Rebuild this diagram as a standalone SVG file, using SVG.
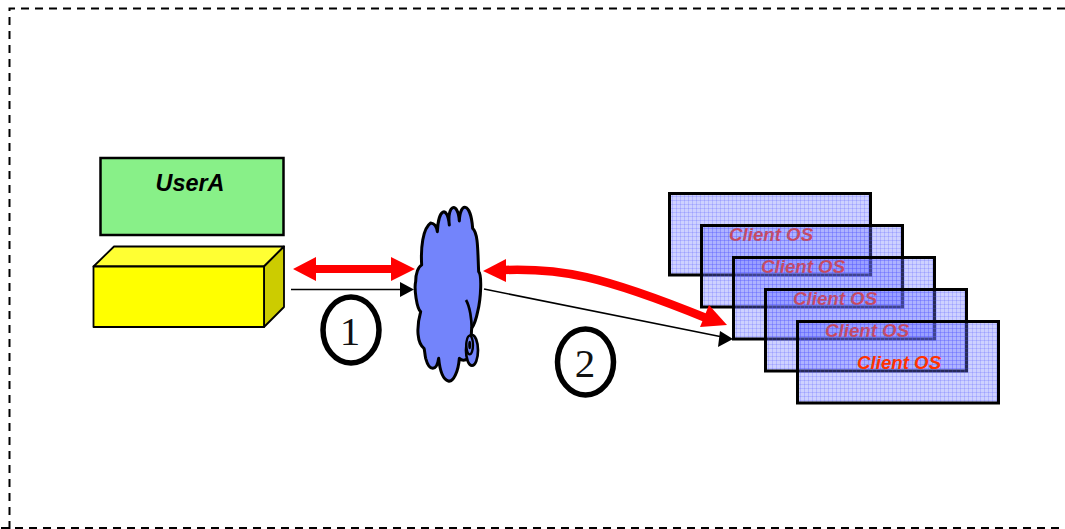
<svg xmlns="http://www.w3.org/2000/svg" width="1065" height="529" viewBox="0 0 1065 529">
<style>
.client{fill:url(#grid);stroke:#000;stroke-width:3}
.os{font:italic bold 18.7px "Liberation Sans",Arial,sans-serif;fill:#ff3300}
.num{font:41px "Liberation Serif","Times New Roman",serif;fill:#111;text-anchor:middle}
.ring{fill:#fff;stroke:#000;stroke-width:5.500}
.thin{fill:none;stroke:#000;stroke-width:1.600}
</style>
<defs>
<pattern id="grid" width="4" height="4" patternUnits="userSpaceOnUse">
<rect width="4" height="4" fill="#7078ff" fill-opacity=".34"/>
<path d="M0 .5H4M.5 0V4" stroke="#5058ff" stroke-opacity=".22" stroke-width="1" fill="none"/>
</pattern>
</defs>
<rect width="1065" height="529" fill="#fff"/>
<path id="frame" d="M9.500 529V8.500H1065" fill="none" stroke="#000" stroke-width="2" stroke-dasharray="8 6"/>
<path id="frame-bottom" d="M1 528H1065" fill="none" stroke="#000" stroke-width="1.800" stroke-dasharray="8 6"/>
<g id="user-a">
<rect x="100.500" y="158" width="183" height="77" fill="#88f088" stroke="#000" stroke-width="2.500"/>
<text x="155.500" y="191" font-family="Liberation Sans, Arial, sans-serif" font-size="23.400" font-weight="bold" font-style="italic" fill="#000">UserA</text>
</g>
<g id="box" stroke="#000" stroke-width="1.800" stroke-linejoin="round">
<path d="M93.500 266.500L114 246.500H284L264 266.500Z" fill="#ffff33"/>
<path d="M264 266.500L284 246.500V307L264 327Z" fill="#cccc00"/>
<rect x="93.500" y="266.500" width="170.500" height="60.500" fill="#ffff00"/>
</g>
<g id="cloud" transform="translate(400 195) scale(.33333)">
<path d="M148 90C140 25 175 20 178 78C180 20 212 20 218 100C235 115 233 170 236 230C246 240 243 310 233 350C228 375 222 390 215 400C212 440 215 480 205 490C195 497 185 497 178 490C175 530 160 562 145 558C128 553 120 530 116 490C110 530 88 530 77 490C74 475 74 465 72 460C52 445 48 400 62 350C50 340 42 280 47 260C47 235 55 215 65 210C62 160 68 100 92 84C102 85 110 95 112 110C115 40 142 30 148 90Z" fill="#7384fb" stroke="#000" stroke-width="9" stroke-linejoin="round"/>
<path d="M198 315C210 335 215 375 215 400" fill="none" stroke="#000" stroke-width="8"/>
<ellipse cx="216" cy="466" rx="18" ry="46" fill="#7384fb" stroke="#000" stroke-width="8"/>
<ellipse cx="209" cy="450" rx="10" ry="28" fill="#7384fb" stroke="#000" stroke-width="7"/>
<ellipse cx="209" cy="450" rx="2" ry="10" fill="none" stroke="#000" stroke-width="5"/>
</g>
<g id="client-os-1"><rect class="client" x="669.500" y="193.500" width="201" height="81.500"/><text class="os" x="729" y="241">Client OS</text></g>
<g id="client-os-2"><rect class="client" x="701.500" y="225.500" width="201" height="81.500"/><text class="os" x="761" y="273">Client OS</text></g>
<g id="client-os-3"><rect class="client" x="733.500" y="257.500" width="201" height="81.500"/><text class="os" x="793" y="305">Client OS</text></g>
<g id="client-os-4"><rect class="client" x="765.500" y="289.500" width="201" height="81.500"/><text class="os" x="825" y="337">Client OS</text></g>
<g id="client-os-5"><rect class="client" x="797.500" y="321.500" width="201" height="81.500"/><text class="os" x="857" y="369">Client OS</text></g>
<g id="connectors">
<path class="thin" d="M291 289.500H402"/>
<path d="M414 289.500L400 282V297Z" fill="#000"/>
<path class="thin" d="M484 289L720 336.500"/>
<path d="M733 339L718 347L720 331Z" fill="#000"/>
<path d="M293 269L316 257V265H391V257L415 269L391 281V273H316V281Z" fill="#ff0000"/>
<path d="M504 270C560 268 600 275 706 318" fill="none" stroke="#ff0000" stroke-width="8.500"/>
<path d="M483 271L506 259V282Z" fill="#ff0000"/>
<path d="M727 325L709 305L700 327Z" fill="#ff0000"/>
</g>
<g id="label-1"><ellipse class="ring" cx="351" cy="330" rx="28" ry="33"/><text class="num" x="350" y="345">1</text></g>
<g id="label-2"><ellipse class="ring" cx="585.500" cy="362" rx="28" ry="33"/><text class="num" x="585" y="377">2</text></g>
</svg>
